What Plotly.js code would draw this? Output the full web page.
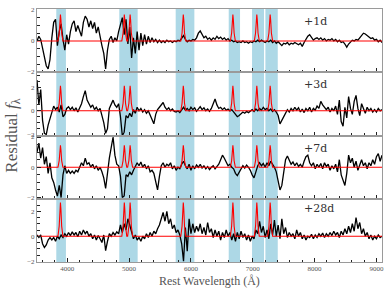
<!DOCTYPE html>
<html><head><meta charset="utf-8">
<script src="https://cdn.plot.ly/plotly-3.0.1.min.js"></script>
<style>html,body{margin:0;padding:0;background:#fff}</style>
</head><body><div id="chart" style="width:391px;height:293px"></div>
<script>
const wavelength = [
3510,3540,3570,3600,3630,3660,3690,3720,3750,3780,
3810,3840,3870,3900,3930,3960,3990,4020,4050,4080,
4110,4140,4170,4200,4230,4260,4290,4320,4350,4380,
4410,4440,4470,4500,4530,4560,4590,4620,4650,4680,
4710,4740,4770,4800,4830,4860,4890,4920,4950,4980,
5010,5040,5070,5100,5130,5160,5190,5220,5250,5280,
5310,5340,5370,5400,5430,5460,5490,5520,5550,5580,
5610,5640,5670,5700,5730,5760,5790,5820,5850,5880,
5910,5940,5970,6000,6030,6060,6090,6120,6150,6180,
6210,6240,6270,6300,6330,6360,6390,6420,6450,6480,
6510,6540,6570,6600,6630,6660,6690,6720,6750,6780,
6810,6840,6870,6900,6930,6960,6990,7020,7050,7080,
7110,7140,7170,7200,7230,7260,7290,7320,7350,7380,
7410,7440,7470,7500,7530,7560,7590,7620,7650,7680,
7710,7740,7770,7800,7830,7860,7890,7920,7950,7980,
8010,8040,8070,8100,8130,8160,8190,8220,8250,8280,
8310,8340,8370,8400,8430,8460,8490,8520,8550,8580,
8610,8640,8670,8700,8730,8760,8790,8820,8850,8880,
8910,8940,8970,9000,9030,9060,9090];

const flux1 = [
0.0,0.3,0.1,-0.5,-1.0,-1.6,-1.8,-1.2,0.2,1.2,
1.4,-0.3,0.6,1.1,0.1,-0.6,0.4,-0.2,0.6,1.1,
1.3,0.6,1.0,0.7,0.3,1.2,1.6,1.4,0.9,1.3,
0.8,1.2,0.5,0.9,0.2,-0.3,-0.8,-1.8,-0.6,0.1,
0.3,-0.1,0.2,0.0,0.6,1.0,1.5,0.4,1.4,-0.2,
0.9,-1.1,0.2,-0.8,0.6,-0.6,0.5,-0.3,0.4,-0.2,
0.3,-0.1,0.2,-0.05,0.1,-0.1,0.05,-0.1,0.0,-0.1,
0.05,-0.05,0.0,-0.1,0.0,-0.05,0.05,0.0,0.15,0.35,
0.1,-0.05,0.05,0.0,0.1,0.05,0.2,0.5,0.65,0.4,
0.2,0.3,0.1,0.2,0.05,0.2,0.1,0.3,0.15,0.25,
0.1,0.2,0.05,0.15,0.0,0.05,-0.05,0.0,-0.1,-0.05,
-0.1,0.0,-0.1,-0.05,-0.15,-0.05,-0.1,0.0,-0.05,0.05,
-0.05,0.05,0.0,-0.1,0.0,-0.05,0.05,-0.1,0.0,-0.15,
-0.05,-0.2,-0.3,-0.15,-0.2,-0.1,-0.25,-0.15,-0.2,-0.1,
-0.2,-0.25,-0.15,-0.35,-0.1,0.1,0.3,0.4,0.25,0.05,
0.15,0.2,0.1,0.2,0.05,0.15,0.0,0.1,0.05,0.15,
0.0,0.1,-0.05,0.05,-0.1,-0.05,-0.2,-0.4,-0.2,-0.05,
0.05,0.0,0.1,0.05,0.2,0.35,0.5,0.45,0.35,0.3,
0.15,0.2,0.05,0.1,-0.05,0.05,-0.1];

const flux2 = [
2.6,0.5,1.8,-0.8,-1.9,-2.0,-1.2,-0.6,-0.2,0.4,
0.1,0.3,-0.1,0.5,-0.5,-0.3,0.2,0.35,0.1,0.3,
0.0,0.25,-0.1,0.3,0.6,1.2,1.7,0.9,0.6,0.3,
0.5,0.1,0.3,0.0,0.2,-0.3,-1.0,-1.9,-1.5,0.2,
0.6,0.9,0.5,0.3,0.6,-0.5,-2.1,-1.8,-0.4,-0.6,
-0.2,-0.5,0.1,-0.2,0.3,0.0,0.2,-0.1,0.1,-0.2,
0.0,-0.4,-0.8,-1.1,-0.3,0.1,0.3,0.5,0.7,0.3,
0.1,0.25,0.0,0.15,-0.05,-0.1,0.0,-0.15,0.1,0.3,
0.05,0.2,0.0,0.3,0.1,0.25,-0.05,0.2,0.35,0.1,
0.25,0.0,0.15,-0.05,0.2,0.6,1.0,0.5,0.2,0.3,
0.1,0.25,0.05,0.15,0.0,0.1,-0.1,-0.3,-0.5,-0.4,
-0.2,-0.1,-0.2,-0.05,-0.15,0.0,0.1,-0.05,0.15,0.0,
0.2,0.05,0.3,0.1,0.2,0.0,0.15,-0.05,0.1,-0.1,
-0.4,-1.1,-0.8,-0.4,-0.2,0.1,-0.1,0.2,0.0,0.3,
0.05,0.25,-0.1,0.15,-0.15,0.2,0.0,0.3,-0.1,0.2,
0.05,0.4,0.2,0.8,0.5,0.3,0.1,0.3,-0.1,0.2,
0.0,0.4,-0.3,0.9,-0.9,-1.3,0.3,-0.6,1.2,0.2,
-0.3,0.8,1.3,0.2,-0.4,0.6,0.1,-0.2,0.3,0.0,
0.2,-0.1,0.1,-0.1,0.2,0.0,0.1];

const flux3 = [
1.0,1.6,0.6,1.3,0.2,0.7,-0.4,0.3,-0.7,-1.0,
-1.5,-1.9,-1.2,-2.0,-0.5,0.1,-0.4,-0.2,-0.4,-0.25,
-0.4,-0.2,-0.3,0.0,0.3,0.1,0.6,0.2,0.3,0.0,
0.2,-0.1,0.1,-0.2,0.0,-0.3,-0.7,-1.4,-0.3,0.6,
1.3,2.0,0.8,0.2,0.1,-0.6,-2.0,-1.9,-0.5,-0.6,
-0.3,-0.5,-0.2,0.1,0.3,0.1,0.35,0.0,0.2,-0.1,
0.1,-0.3,-0.2,-0.4,-0.9,-1.5,-0.6,0.1,0.3,0.0,
0.2,0.1,0.3,-0.1,0.1,-0.2,0.0,-0.1,0.2,0.4,
0.1,-0.1,0.2,-0.2,0.1,-0.1,0.15,0.0,0.2,-0.05,
0.1,-0.1,0.05,-0.15,0.0,0.1,-0.1,0.05,0.2,0.5,
0.8,0.6,0.3,0.1,0.2,0.0,-0.1,-0.4,-0.55,-0.3,
-0.1,0.1,-0.05,0.15,0.0,-0.2,-0.5,-0.7,-0.3,0.1,
0.3,0.1,0.25,0.0,0.3,0.1,0.4,0.2,0.0,-0.3,
-0.8,-1.5,-1.2,-0.2,0.5,0.75,0.4,0.2,0.35,0.1,
0.3,0.05,0.2,0.0,0.4,0.7,0.8,0.3,0.1,0.3,
-0.1,0.2,0.0,0.25,-0.1,0.3,0.05,0.2,-0.2,0.1,
-0.1,0.2,-0.3,0.5,-0.5,-0.9,-1.2,-0.4,0.8,0.3,
0.6,0.0,0.4,-0.2,0.2,0.5,0.1,0.3,-0.1,0.3,
0.1,0.5,0.2,0.7,0.9,0.4,0.8];

const flux4 = [
0.1,-0.1,0.1,-0.6,-0.9,-0.7,-0.3,-0.1,-0.3,-0.1,
-0.4,0.0,-0.2,0.1,-0.1,0.2,0.0,0.3,0.05,0.35,
0.1,0.3,-0.05,0.4,0.1,0.5,0.2,0.4,0.0,0.2,
-0.2,0.1,-0.3,0.05,-0.2,-0.5,0.1,-1.15,-0.4,0.2,
0.0,0.3,0.1,0.35,0.2,0.9,0.3,1.0,0.5,1.4,
0.9,0.3,-0.2,0.1,-0.3,-0.1,-0.4,0.0,-0.2,0.2,
-0.1,0.3,0.0,0.4,0.2,0.6,0.9,1.4,1.9,1.2,
2.0,1.0,1.4,0.6,0.9,0.3,0.5,0.1,-0.6,-2.0,
0.7,-1.2,1.4,0.2,1.0,0.3,0.8,0.4,1.0,0.2,
0.7,0.1,1.1,0.3,0.6,-0.1,0.5,0.0,0.4,-0.3,
0.3,-0.1,0.5,0.0,0.3,-0.3,0.2,-0.4,0.3,-0.2,
0.4,-0.1,0.2,-0.3,0.1,-0.4,0.0,-0.2,0.5,0.2,
1.2,0.3,0.8,-0.1,0.5,-0.2,1.0,0.1,1.3,0.0,
0.9,-0.2,1.4,0.2,0.7,-0.1,0.3,0.0,0.2,-0.2,
0.5,0.0,0.3,-0.2,0.1,-0.3,0.0,-0.1,0.15,-0.2,
0.1,-0.1,0.2,0.0,0.25,-0.1,0.2,0.0,0.3,0.05,
0.4,0.1,0.3,-0.1,0.4,0.1,0.6,0.2,0.8,0.3,
1.0,0.4,1.5,0.6,1.1,0.2,0.6,0.0,0.3,-0.2,
0.1,-0.3,0.0,-0.2,0.1,-0.1,0.0];

// Model (red) curves: He I line profiles on a zero baseline
const modelWave = [3510,
3849,3869,3881,3889,3897,3909,3929,
4882,4902,4914,4922,4930,4942,4962,
4976,4996,5008,5016,5024,5036,5056,
5836,5856,5868,5876,5884,5896,5916,
6638,6658,6670,6678,6686,6698,6718,
7025,7045,7057,7065,7073,7085,7105,
7241,7261,7273,7281,7289,7301,7321,
9090];
const model1 = [0,
0,0.51,1.36,1.7,1.36,0.51,0,
0,0.51,1.36,1.7,1.36,0.51,0,
0,0.51,1.36,1.7,1.36,0.51,0,
0,0.51,1.36,1.7,1.36,0.51,0,
0,0.51,1.36,1.7,1.36,0.51,0,
0,0.51,1.36,1.7,1.36,0.51,0,
0,0.51,1.36,1.7,1.36,0.51,0,
0];
const model2 = [0,
0,0.63,1.68,2.1,1.68,0.63,0,
0,0.63,1.68,2.1,1.68,0.63,0,
0,0.63,1.68,2.1,1.68,0.63,0,
0,0.63,1.68,2.1,1.68,0.63,0,
0,0.63,1.68,2.1,1.68,0.63,0,
0,0.63,1.68,2.1,1.68,0.63,0,
0,0.63,1.68,2.1,1.68,0.63,0,
0];
const model3 = [0,
0,0.44,1.16,1.45,1.16,0.44,0,
0,0.44,1.16,1.45,1.16,0.44,0,
0,0.44,1.16,1.45,1.16,0.44,0,
0,0.44,1.16,1.45,1.16,0.44,0,
0,0.44,1.16,1.45,1.16,0.44,0,
0,0.44,1.16,1.45,1.16,0.44,0,
0,0.44,1.16,1.45,1.16,0.44,0,
0];
const model4 = [0,
0,0.81,2.16,2.7,2.16,0.81,0,
0,0.81,2.16,2.7,2.16,0.81,0,
0,0.81,2.16,2.7,2.16,0.81,0,
0,0.81,2.16,2.7,2.16,0.81,0,
0,0.81,2.16,2.7,2.16,0.81,0,
0,0.81,2.16,2.7,2.16,0.81,0,
0,0.81,2.16,2.7,2.16,0.81,0,
0];

const bandStart = [3822, 4841, 5753, 6611, 6988, 7204];
const bandEnd   = [3978, 5138, 6055, 6794, 7182, 7404];

const epochLabels = ['+1d', '+3d', '+7d', '+28d'];
const labelY = [1.25, 2.18, 1.26, 2.25];

const fluxes = [flux1, flux2, flux3, flux4];
const models = [model1, model2, model3, model4];

// layout geometry (not data)
const yRanges = [[-2.02, 2.06], [-2.08, 3.25], [-2.08, 2.1], [-2.06, 3.0]];
const xRange = [3510, 9090];

const serif = 'Liberation Serif, Times New Roman, serif';
const traces = [];
const layout = {
  width: 391, height: 293,
  margin: {l: 37, r: 9, t: 9, b: 31},
  paper_bgcolor: '#ffffff', plot_bgcolor: 'rgba(0,0,0,0)',
  showlegend: false,
  shapes: [], annotations: []
};

for (let k = 0; k < 4; k++) {
  const xa = k === 0 ? 'x' : 'x' + (k + 1);
  const ya = k === 0 ? 'y' : 'y' + (k + 1);
  const xk = k === 0 ? 'xaxis' : 'xaxis' + (k + 1);
  const yk = k === 0 ? 'yaxis' : 'yaxis' + (k + 1);
  traces.push({x: wavelength, y: fluxes[k], xaxis: xa, yaxis: ya, type: 'scatter', mode: 'lines',
    line: {color: '#000000', width: 1.3}, hoverinfo: 'skip'});
  traces.push({x: modelWave, y: models[k], xaxis: xa, yaxis: ya, type: 'scatter', mode: 'lines',
    line: {color: '#ff0000', width: 1.1}, hoverinfo: 'skip'});
  const top = 1 - k * 0.25, bot = 1 - (k + 1) * 0.25;
  layout[xk] = {
    domain: [0, 1], anchor: ya, range: xRange,
    showline: true, mirror: true, linecolor: '#9a9a9a', linewidth: 1,
    ticks: 'inside', ticklen: 4, tickwidth: 1, tickcolor: '#222',
    tick0: 0, dtick: 1000,
    minor: {ticks: 'inside', ticklen: 2.5, tickwidth: 1, tickcolor: '#222', dtick: 200},
    showgrid: false, zeroline: false,
    showticklabels: k === 3,
    tickfont: {family: serif, size: 7, color: '#555'}
  };
  layout[yk] = {
    domain: [bot, top], anchor: xa, range: yRanges[k],
    showline: true, mirror: true, linecolor: '#9a9a9a', linewidth: 1,
    ticks: 'inside', ticklen: 4, tickwidth: 1, tickcolor: '#222',
    tick0: 0, dtick: 2,
    minor: {ticks: 'inside', ticklen: 2.5, tickwidth: 1, tickcolor: '#222', dtick: 0.5},
    showgrid: false, zeroline: false,
    tickfont: {family: serif, size: 7, color: '#555'}
  };
  layout.annotations.push({
    xref: xa, yref: ya, x: 7800, y: labelY[k], text: epochLabels[k],
    showarrow: false, xanchor: 'left', yanchor: 'middle',
    font: {family: 'DejaVu Serif, serif', size: 11, color: '#333'}
  });
}

for (let b = 0; b < bandStart.length; b++) {
  layout.shapes.push({type: 'rect', xref: 'x', yref: 'paper', x0: bandStart[b], x1: bandEnd[b], y0: 0, y1: 1,
    fillcolor: '#add8e6', line: {width: 0}, layer: 'below'});
}

layout.annotations.push({
  xref: 'paper', yref: 'paper', x: 0.5, y: -0.075, text: 'Rest Wavelength (Å)',
  showarrow: false, xanchor: 'center', yanchor: 'middle',
  font: {family: serif, size: 12, color: '#555'}
});
layout.annotations.push({
  xref: 'paper', yref: 'paper', x: -0.072, y: 0.5, text: 'Residual <i>f</i><sub>λ</sub>',
  showarrow: false, xanchor: 'center', yanchor: 'middle', textangle: -90,
  font: {family: serif, size: 17, color: '#555'}
});

Plotly.newPlot('chart', traces, layout, {displayModeBar: false, staticPlot: true});
</script></body></html>
